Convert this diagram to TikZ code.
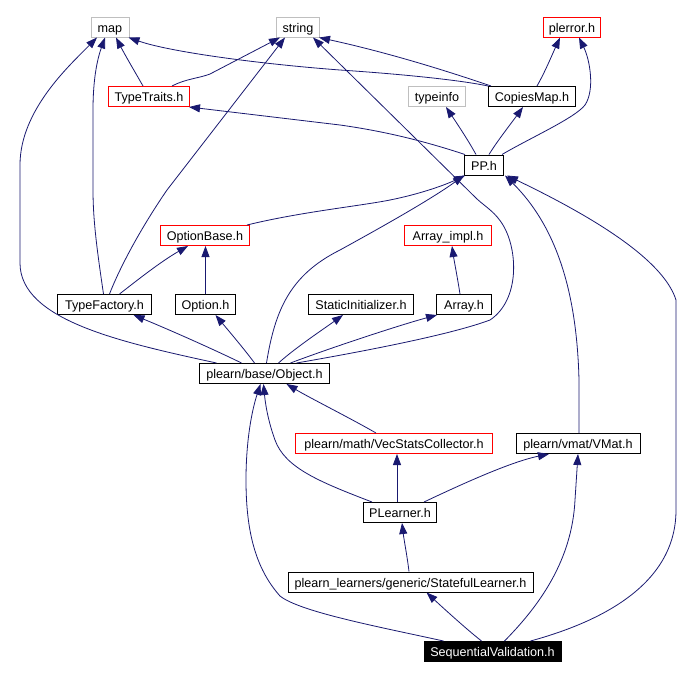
\documentclass[tikz,border=0pt]{standalone}
\usepackage{fontspec}
\setmainfont{Liberation Sans}
\usetikzlibrary{arrows.meta}
\definecolor{edgeblue}{HTML}{191970}
\definecolor{boxgray}{HTML}{BFBFBF}
\definecolor{boxred}{HTML}{FF0000}
\begin{document}
\begin{tikzpicture}[x=1pt,y=-1pt,
  hdr/.style={draw=black, line width=1pt, rectangle, minimum height=20pt, inner sep=0pt, text height=11.5pt, text depth=1pt, fill=white, text=black, font=\fontsize{12.6}{14}\selectfont},
  redbox/.style={hdr, draw=boxred},
  graybox/.style={hdr, draw=boxgray},
  curbox/.style={hdr, fill=black, text=white},
  inc/.style={draw=edgeblue, line width=0.8pt, -{Triangle[length=11pt,width=8pt]}}
]
\fill[white] (0,0) rectangle (694,678);
\useasboundingbox (0,0) rectangle (694,678);

% nodes
\node[graybox, minimum width=38pt]  (map)      at (110,27)    {map};
\node[graybox, minimum width=43pt]  (string)   at (298,27)    {string};
\node[redbox,  minimum width=57pt]  (plerror)  at (572,27)    {plerror.h};
\node[redbox,  minimum width=81pt]  (tt)       at (149,96.5)  {TypeTraits.h};
\node[graybox, minimum width=57pt]  (typeinfo) at (437,96.5)  {typeinfo};
\node[hdr,     minimum width=87pt]  (copies)   at (532,96.5)  {CopiesMap.h};
\node[hdr,     minimum width=39pt]  (pp)       at (484,165)   {PP.h};
\node[redbox,  minimum width=89pt]  (optbase)  at (205,235.5) {OptionBase.h};
\node[redbox,  minimum width=87pt]  (arrimpl)  at (448,235.5) {Array\_impl.h};
\node[hdr,     minimum width=94pt]  (tf)       at (104.5,304.5) {TypeFactory.h};
\node[hdr,     minimum width=60pt]  (opt)      at (205.5,304.5) {Option.h};
\node[hdr,     minimum width=105pt] (si)       at (361,304.5) {StaticInitializer.h};
\node[hdr,     minimum width=55pt]  (arr)      at (464,304.5) {Array.h};
\node[hdr,     minimum width=130pt] (obj)      at (264.5,373.5) {plearn/base/Object.h};
\node[redbox,  minimum width=197pt] (vsc)      at (394,443.5) {plearn/math/VecStatsCollector.h};
\node[hdr,     minimum width=124pt] (vmat)     at (578,443.5) {plearn/vmat/VMat.h};
\node[hdr,     minimum width=73pt]  (pl)       at (400,512.5) {PLearner.h};
\node[hdr,     minimum width=245pt] (sl)       at (410.5,582) {plearn\_learners/generic/StatefulLearner.h};
\node[curbox,  minimum width=137pt] (sv)       at (492.5,651.5) {SequentialValidation.h};

% edges
\draw[inc] ([xshift=-6pt]tt.north) .. controls (135,72) and (125,55) .. ([xshift=6pt]map.south);
\draw[inc] ([xshift=23pt]tt.north) .. controls (185,79) and (200,78) .. (210,74) -- ([xshift=-18pt]string.south);
\draw[inc] ([xshift=-44pt]copies.north) .. controls (460,80) and (400,74) .. (340,70) .. controls (260,64) and (170,52) .. ([xshift=-1pt]map.south east);
\draw[inc] ([xshift=-41pt]copies.north) .. controls (450,72) and (390,53) .. ([xshift=-1pt]string.south east);
\draw[inc] ([xshift=5pt]copies.north) .. controls (545,72) and (552,55) .. ([xshift=-12pt]plerror.south);
\draw[inc] ([xshift=18pt]pp.north) .. controls (530,138) and (575,118) .. (585,105) .. controls (595,90) and (590,60) .. ([xshift=7pt]plerror.south);
\draw[inc] ([xshift=-8pt]pp.north) .. controls (468,140) and (458,125) .. ([xshift=9pt]typeinfo.south);
\draw[inc] ([xshift=5pt]pp.north) .. controls (498,140) and (510,125) .. ([xshift=-9pt]copies.south);
\draw[inc] ([xshift=-19pt]pp.north) .. controls (430,143) and (390,132) .. (340,125) -- ([xshift=-1pt]tt.south east);
\draw[inc] ([xshift=-3pt]optbase.north east) .. controls (300,212) and (360,206) .. (390,200) .. controls (420,194) and (445,185) .. ([xshift=1pt]pp.south west);
\draw[inc] ([xshift=2pt]obj.north) .. controls (275,310) and (290,275) .. (340,250) .. controls (380,228) and (430,200) .. (pp.south west);
\draw[inc] ([xshift=32pt]obj.north) .. controls (360,352) and (450,335) .. (490,320) .. controls (520,300) and (518,250) .. (503,225) .. controls (495,212) and (487,208) .. (477,199) -- ([xshift=15pt]string.south);
\draw[inc] ([xshift=-48pt]obj.north) .. controls (120,342) and (20,320) .. (20,263) -- (20,165) .. controls (20,110) and (70,65) .. ([xshift=-13pt]map.south);
\draw[inc] ([xshift=-1pt]tf.north) .. controls (97,250) and (93,220) .. (93,190) -- (93,110) .. controls (93,80) and (97,60) .. ([xshift=-5pt]map.south);
\draw[inc] ([xshift=5pt]tf.north) .. controls (122,262) and (145,222) .. (167,190) -- ([xshift=-13pt]string.south);
\draw[inc] ([xshift=15pt]tf.north) .. controls (135,282) and (160,262) .. ([xshift=-17pt]optbase.south);
\draw[inc] (opt.north) -- (opt.north |- optbase.south);
\draw[inc] ([xshift=-23pt]obj.north) .. controls (215,350) and (170,330) .. ([xshift=29pt]tf.south);
\draw[inc] ([xshift=-10pt]obj.north) .. controls (245,350) and (228,330) .. ([xshift=10pt]opt.south);
\draw[inc] ([xshift=14pt]obj.north) .. controls (295,348) and (325,328) .. ([xshift=-18pt]si.south);
\draw[inc] ([xshift=26pt]obj.north) .. controls (330,348) and (400,325) .. ([xshift=-27pt]arr.south);
\draw[inc] ([xshift=-4pt]arr.north) .. controls (457,275) and (454,260) .. ([xshift=4pt]arrimpl.south);
\draw[inc] ([xshift=-18pt]vsc.north) .. controls (350,418) and (310,398) .. ([xshift=22pt]obj.south);
\draw[inc] ([xshift=-28pt]pl.north) .. controls (320,482) and (285,468) .. (275,440) .. controls (267,418) and (265,400) .. ([xshift=-1pt]obj.south);
\draw[inc] ([xshift=-49pt]sv.north) .. controls (380,627) and (300,612) .. (280,596) .. controls (255,568) and (246,530) .. (246,480) .. controls (246,440) and (252,410) .. ([xshift=-4pt]obj.south);
\draw[inc] ([xshift=-3pt]pl.north) -- ([xshift=3pt]vsc.south);
\draw[inc] ([xshift=24pt]pl.north) .. controls (460,485) and (510,462) .. ([xshift=-29pt]vmat.south);
\draw[inc] ([xshift=-1.5pt]sl.north) .. controls (407,555) and (404,540) .. ([xshift=2pt]pl.south);
\draw[inc] ([xshift=-11pt]sv.north) .. controls (465,628) and (440,605) .. ([xshift=16pt]sl.south);
\draw[inc] ([xshift=12pt]sv.north) .. controls (540,605) and (572,560) .. (575,500) -- (vmat.south);
\draw[inc] ([xshift=38pt]sv.north) .. controls (600,622) and (676,585) .. (676,510) -- (676,300) .. controls (665,265) and (610,225) .. ([xshift=3pt]pp.south east);
\draw[inc] ([xshift=1pt]vmat.north) -- (579,380) .. controls (577,300) and (560,230) .. ([xshift=1pt]pp.south east);
\end{tikzpicture}
\end{document}
